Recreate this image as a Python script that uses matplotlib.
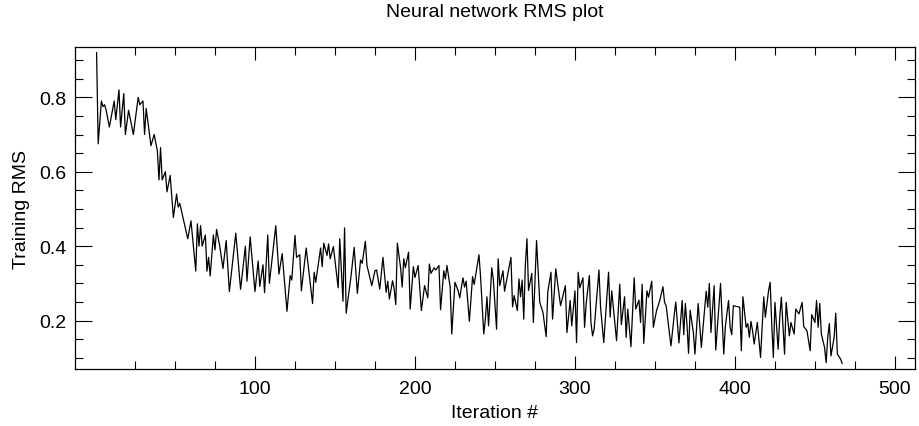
import matplotlib
matplotlib.use("Agg")
import matplotlib.pyplot as plt
from matplotlib.ticker import FixedLocator, MultipleLocator

# Valores (iteracao, RMS de treino)
iteracoes = [
    1, 2, 4, 5, 6, 7, 9, 12, 13, 15, 16, 18, 19, 21, 24, 27, 28, 30, 31, 32,
    35, 37, 39, 40, 41, 42, 44, 45, 47, 49, 51, 52, 53, 58, 60, 63, 64, 65, 66, 67,
    69, 70, 71, 72, 74, 75, 76, 78, 80, 82, 84, 88, 91, 94, 95, 97, 100, 102, 103, 105,
    106, 108, 109, 113, 115, 117, 120, 122, 123, 125, 126, 128, 129, 132, 136, 137, 138, 141, 142, 143,
    145, 146, 147, 149, 152, 153, 155, 156, 157, 160, 162, 164, 166, 167, 169, 170, 173, 175, 176, 178,
    180, 182, 183, 184, 186, 187, 188, 189, 191, 192, 193, 194, 196, 197, 199, 200, 202, 204, 206, 208,
    209, 210, 212, 213, 215, 216, 218, 219, 220, 222, 223, 225, 227, 228, 230, 231, 232, 234, 236, 237,
    240, 241, 243, 244, 245, 246, 248, 249, 251, 252, 253, 255, 256, 260, 261, 262, 264, 265, 266, 267,
    268, 269, 270, 271, 273, 274, 276, 278, 280, 282, 283, 285, 286, 288, 291, 294, 295, 297, 298, 300,
    301, 302, 303, 305, 306, 307, 309, 310, 311, 312, 315, 316, 318, 321, 322, 323, 326, 328, 329, 331,
    332, 333, 335, 337, 338, 340, 341, 342, 343, 345, 346, 348, 349, 351, 353, 355, 356, 357, 360, 362,
    363, 365, 367, 368, 369, 370, 371, 372, 374, 375, 377, 379, 382, 383, 384, 385, 387, 388, 391, 393,
    394, 396, 397, 398, 399, 403, 404, 405, 407, 408, 409, 410, 411, 412, 414, 416, 418, 419, 421, 422,
    423, 424, 425, 427, 428, 429, 431, 432, 434, 435, 437, 438, 440, 442, 443, 445, 447, 448, 450, 451,
    452, 453, 454, 456, 457, 458, 459, 460, 462, 463, 464, 466, 467,
]
rms = [
    0.92, 0.675, 0.79, 0.775, 0.78, 0.765, 0.72, 0.79, 0.74, 0.82, 0.72, 0.81, 0.70, 0.765, 0.70, 0.80, 0.78, 0.79, 0.70, 0.77,
    0.67, 0.70, 0.656, 0.578, 0.665, 0.578, 0.60, 0.546, 0.59, 0.477, 0.54, 0.505, 0.515, 0.42, 0.468, 0.333, 0.46, 0.40, 0.455, 0.40,
    0.43, 0.333, 0.37, 0.32, 0.43, 0.39, 0.445, 0.40, 0.34, 0.415, 0.278, 0.435, 0.284, 0.40, 0.306, 0.425, 0.278, 0.36, 0.292, 0.35,
    0.275, 0.43, 0.30, 0.455, 0.325, 0.38, 0.225, 0.321, 0.309, 0.429, 0.37, 0.377, 0.28, 0.395, 0.246, 0.33, 0.303, 0.395, 0.345, 0.408,
    0.375, 0.406, 0.366, 0.399, 0.288, 0.42, 0.252, 0.449, 0.22, 0.318, 0.397, 0.273, 0.363, 0.354, 0.413, 0.348, 0.294, 0.334, 0.336, 0.285,
    0.37, 0.276, 0.306, 0.258, 0.307, 0.285, 0.243, 0.408, 0.342, 0.29, 0.366, 0.342, 0.384, 0.231, 0.345, 0.316, 0.348, 0.227, 0.294, 0.261,
    0.352, 0.327, 0.342, 0.336, 0.348, 0.229, 0.334, 0.312, 0.348, 0.29, 0.164, 0.303, 0.28, 0.261, 0.315, 0.29, 0.306, 0.198, 0.318, 0.297,
    0.377, 0.318, 0.164, 0.204, 0.264, 0.186, 0.342, 0.309, 0.177, 0.366, 0.294, 0.334, 0.279, 0.37, 0.237, 0.267, 0.227, 0.312, 0.264, 0.309,
    0.204, 0.35, 0.42, 0.281, 0.327, 0.195, 0.415, 0.249, 0.222, 0.157, 0.276, 0.33, 0.204, 0.339, 0.24, 0.294, 0.168, 0.254, 0.186, 0.28,
    0.141, 0.33, 0.288, 0.315, 0.182, 0.245, 0.321, 0.195, 0.159, 0.177, 0.336, 0.236, 0.141, 0.33, 0.209, 0.28, 0.146, 0.298, 0.189, 0.264,
    0.155, 0.231, 0.13, 0.315, 0.231, 0.255, 0.195, 0.298, 0.139, 0.28, 0.263, 0.306, 0.182, 0.227, 0.254, 0.291, 0.249, 0.24, 0.132, 0.213,
    0.25, 0.14, 0.254, 0.162, 0.246, 0.191, 0.112, 0.228, 0.168, 0.11, 0.246, 0.128, 0.279, 0.236, 0.30, 0.168, 0.294, 0.121, 0.30, 0.11,
    0.184, 0.254, 0.182, 0.162, 0.24, 0.236, 0.119, 0.264, 0.182, 0.192, 0.155, 0.198, 0.173, 0.137, 0.195, 0.101, 0.264, 0.209, 0.28, 0.303,
    0.191, 0.101, 0.249, 0.123, 0.209, 0.263, 0.11, 0.249, 0.159, 0.195, 0.164, 0.231, 0.218, 0.249, 0.184, 0.173, 0.119, 0.216, 0.195, 0.254,
    0.182, 0.246, 0.164, 0.128, 0.087, 0.155, 0.192, 0.105, 0.155, 0.22, 0.11, 0.097, 0.085,
]
xticks = [100, 200, 300, 400, 500]
xminor = [25, 50, 75, 125, 150, 175, 225, 250, 275, 325, 350, 375, 425, 450, 475]

plt.rcParams['font.family'] = ['Liberation Sans', 'DejaVu Sans']

fig = plt.figure(figsize=(9.2, 4.27), dpi=100)
ax = fig.add_axes([0.0815, 0.1335, 0.913, 0.754])

ax.plot(iteracoes, rms, color='black', linewidth=0.9)

ax.set_xlim(-12.5, 512.5)
ax.set_ylim(0.07, 0.935)

# Ticks para dentro em todos os lados (sem tick no zero do eixo x)
ax.xaxis.set_major_locator(FixedLocator(xticks))
ax.xaxis.set_minor_locator(FixedLocator(xminor))
ax.yaxis.set_major_locator(MultipleLocator(0.2))
ax.yaxis.set_minor_locator(MultipleLocator(0.05))
ax.tick_params(axis='both', which='both', direction='in', top=True, right=True,
               width=0.8, labelsize=14)
ax.tick_params(axis='x', which='major', length=9.5, pad=8)
ax.tick_params(axis='y', which='major', length=12.5, pad=6)
ax.tick_params(axis='both', which='minor', length=5.5)

for s in ax.spines.values():
    s.set_linewidth(0.9)

ax.set_title("Neural network RMS plot", fontsize=14, pad=22)
ax.set_xlabel("Iteration #", fontsize=14, labelpad=5)
ax.set_ylabel("Training RMS", fontsize=14, labelpad=7)

fig.savefig("out.png", dpi=100)
